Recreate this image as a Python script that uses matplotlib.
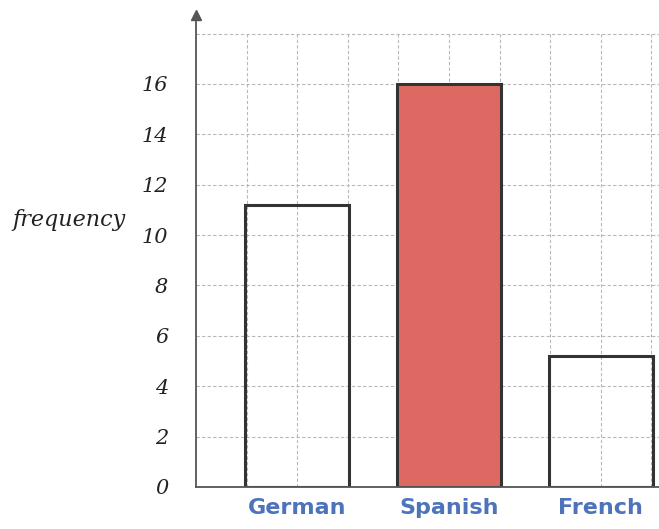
import matplotlib.pyplot as plt

# ------------------------------
# data
# ------------------------------
languages = ["German", "Spanish", "French"]
frequency = [11.2, 16, 5.2]
bar_pos = [2, 5, 8]
y_ticks = [0, 2, 4, 6, 8, 10, 12, 14, 16]

bar_fill = ["none", "#DD6A62", "none"]
edge = "#333333"
grid_col = "#b8b8b8"

fig = plt.figure(figsize=(6.59, 5.29), dpi=100)
ax = fig.add_axes([0.2974, 0.0794, 0.7026, 0.892])

xmax = 9.15
ymax = 18.73
ax.set_xlim(0, xmax)
ax.set_ylim(0, ymax)

# grid paper, stops at the top line (18)
for gx in range(1, 10):
    ax.vlines(gx, 0, 18, colors=grid_col, linestyles=(0, (3, 2)), linewidth=0.8, zorder=0)
for gy in range(2, 19, 2):
    ax.hlines(gy, 0, xmax, colors=grid_col, linestyles=(0, (3, 2)), linewidth=0.8, zorder=0)

# bars
ax.bar(bar_pos, frequency, width=2.05, color=bar_fill, edgecolor=edge,
       linewidth=2.2, zorder=2, clip_on=True)

# axes
for s in ["top", "right"]:
    ax.spines[s].set_visible(False)
ax.spines["left"].set_color("#555555")
ax.spines["bottom"].set_color("#555555")
ax.spines["left"].set_linewidth(1.3)
ax.spines["bottom"].set_linewidth(1.3)
ax.plot([0], [ymax], marker="^", color="#555555", markersize=7, clip_on=False, zorder=3)

ax.set_yticks(y_ticks)
ax.set_yticklabels([str(v) for v in y_ticks], fontsize=15, color="#222222",
                   fontstyle="italic", family="DejaVu Serif")
ax.set_xticks(bar_pos)
ax.set_xticklabels(languages, fontsize=16, color="#4D74BA", fontweight="bold")
ax.tick_params(axis="y", length=0, pad=20)
ax.tick_params(axis="x", length=0, pad=8)

fig.text(0.105, 0.585, "frequency", fontsize=16, color="#222222",
         fontstyle="italic", family="DejaVu Serif", ha="center", va="center")

fig.savefig("out.png", dpi=100)
